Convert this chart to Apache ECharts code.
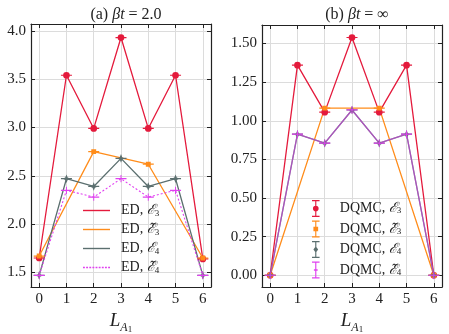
<!DOCTYPE html>
<html>
<head>
<meta charset="utf-8">
<script src="https://cdn.jsdelivr.net/npm/echarts@6/dist/echarts.min.js"></script>
<style>
  html, body { margin: 0; padding: 0; background: #fff; }
  #chart-container { width: 449px; height: 334px; }
</style>
</head>
<body>
<div id="chart-container"></div>
<script>
var dom = document.getElementById('chart-container');
var myChart = echarts.init(dom, null, { renderer: 'canvas' });

// data
const L = [0, 1, 2, 3, 4, 5, 6];
const Leven = [0, 2, 4, 6];
// (a) beta t = 2.0, ED
const edE3 = [1.65, 3.54, 2.99, 3.93, 2.99, 3.54, 1.64];
const edE3t = [1.67, 2.75, 2.62, 1.65];
const edE4 = [1.47, 2.47, 2.39, 2.68, 2.39, 2.47, 1.47];
const edE4t = [1.47, 2.35, 2.28, 2.47, 2.28, 2.35, 1.47];
// (b) beta t = inf, DQMC
const qmcE3 = [0.0, 1.36, 1.056, 1.539, 1.056, 1.36, 0.0];
const qmcE3t = [0.0, 1.082, 1.082, 0.0];
const qmcE4 = [0.0, 0.913, 0.855, 1.07, 0.855, 0.913, 0.0];
const qmcE4t = [0.0, 0.913, 0.855, 1.07, 0.855, 0.913, 0.0];

const xTicks = [0, 1, 2, 3, 4, 5, 6];
const yTicksA = [1.5, 2.0, 2.5, 3.0, 3.5, 4.0];
const yTicksB = [0.0, 0.25, 0.5, 0.75, 1.0, 1.25, 1.5];

const RED = '#e41a3c';
const ORANGE = '#ff8c1a';
const GREY = '#5b6f6f';
const MAGENTA = '#e040f0';

const FONT = 'Liberation Serif';

function pairs(xs, ys) { return xs.map((x, i) => [x, ys[i]]); }

// markers: symbol + small horizontal cap (error bar look)
const BAR = 'M1,9h18v2h-18z ';
const SYM = {
  circle: 'path://' + BAR + 'M15.5,10a5.5,5.5 0 1,1 -11,0a5.5,5.5 0 1,1 11,0z',
  square: 'path://' + BAR + 'M6,6h8v8h-8z',
  star: 'path://' + BAR + 'M10,3L12,8L17,10L12,12L10,17L8,12L3,10L8,8z',
  plus: 'path://' + BAR + 'M9.2,4h1.6v12h-1.6z'
};
// legend icons for errorbar entries
const EB = 'M1,0h8v1.4h-8z M1,16.6h8v1.4h-8z M4.4,0h1.2v18h-1.2z ';
const LEG = {
  circle: 'path://' + EB + 'M8,9a3,3 0 1,1 -6,0a3,3 0 1,1 6,0z',
  square: 'path://' + EB + 'M2.5,6.5h5v5h-5z',
  star: 'path://' + EB + 'M5,5.5L7.5,9L5,12.5L2.5,9z',
  plus: 'path://' + EB + 'M3,8.3h4v1.4h-4z'
};
let dashed = 'path://';
for (let x = 0; x < 27; x += 3) dashed += 'M' + x + ',0h1.8v1.4h-1.8z ';
const solid = 'path://M0,0h27v1.4h-27z';

const rich = {
  n: { fontFamily: FONT, fontSize: 14, color: '#222' },
  e: { fontFamily: FONT, fontSize: 14, color: '#222', fontStyle: 'italic' },
  s: { fontFamily: FONT, fontSize: 9, color: '#222', verticalAlign: 'bottom', lineHeight: 9 }
};
function legFmt(name) {
  const m = name.split(', ');
  const sym = m[1];
  return '{n|' + m[0] + ', }{e|' + sym.slice(0, -1) + '}{s|' + sym.slice(-1) + '}';
}

function lineSeries(name, xs, ys, color, sym, xi, yi, extra) {
  return Object.assign({
    name: name,
    type: 'line',
    xAxisIndex: xi,
    yAxisIndex: yi,
    data: pairs(xs, ys),
    symbol: sym,
    symbolSize: 11,
    symbolKeepAspect: true,
    showAllSymbol: true,
    itemStyle: { color: color },
    lineStyle: { color: color, width: 1.3 },
    emphasis: { disabled: true },
    animation: false
  }, extra || {});
}

function xAxisDef(gi, pos, labels) {
  return {
    type: 'value', gridIndex: gi, position: pos, min: -0.3, max: 6.3,
    axisLine: { show: true, onZero: false, lineStyle: { color: '#222', width: 1.2 } },
    axisTick: { show: true, inside: true, length: 4, customValues: xTicks, lineStyle: { color: '#222' } },
    axisLabel: { show: labels, customValues: xTicks, fontFamily: FONT, fontSize: 15, color: '#222', margin: 5 },
    splitLine: { show: labels, lineStyle: { color: '#dcdcdc', width: 1 } },
    name: labels ? '{L|L}{A|A}{o|1}' : '',
    nameLocation: 'middle',
    nameGap: 16,
    nameTextStyle: {
      rich: {
        L: { fontFamily: FONT, fontSize: 19, fontStyle: 'italic', color: '#222', lineHeight: 22, verticalAlign: 'top' },
        A: { fontFamily: FONT, fontSize: 12, fontStyle: 'italic', color: '#222', lineHeight: 10, verticalAlign: 'bottom' },
        o: { fontFamily: FONT, fontSize: 9, color: '#222', lineHeight: 4, verticalAlign: 'bottom' }
      }
    }
  };
}
function yAxisDef(gi, pos, labels, min, max, ticks, digits) {
  return {
    type: 'value', gridIndex: gi, position: pos, min: min, max: max,
    axisLine: { show: true, onZero: false, lineStyle: { color: '#222', width: 1.2 } },
    axisTick: { show: true, inside: true, length: 4, customValues: ticks, lineStyle: { color: '#222' } },
    axisLabel: {
      show: labels, customValues: ticks, fontFamily: FONT, fontSize: 15, color: '#222', margin: 5,
      formatter: v => v.toFixed(digits)
    },
    splitLine: { show: labels, lineStyle: { color: '#dcdcdc', width: 1 } }
  };
}

const titleRich = {
  n: { fontFamily: FONT, fontSize: 16, color: '#222', fontWeight: 'normal' },
  i: { fontFamily: FONT, fontSize: 16, color: '#222', fontStyle: 'italic', fontWeight: 'normal' }
};

var option = {
  backgroundColor: '#fff',
  animation: false,
  title: [
    {
      text: '{n|(a) }{i|βt}{n| = 2.0}', left: 121, top: 2, textAlign: 'center',
      textStyle: { fontWeight: 'normal', rich: titleRich }
    },
    {
      text: '{n|(b) }{i|βt}{n| = ∞}', left: 352, top: 2, textAlign: 'center',
      textStyle: { fontWeight: 'normal', rich: titleRich }
    }
  ],
  grid: [
    { left: 31, top: 24, width: 180, height: 263, containLabel: false, outerBoundsMode: 'none' },
    { left: 262, top: 25, width: 180, height: 262, containLabel: false, outerBoundsMode: 'none' }
  ],
  xAxis: [
    xAxisDef(0, 'bottom', true),
    xAxisDef(0, 'top', false),
    xAxisDef(1, 'bottom', true),
    xAxisDef(1, 'top', false)
  ],
  yAxis: [
    yAxisDef(0, 'left', true, 1.35, 4.07, yTicksA, 1),
    yAxisDef(0, 'right', false, 1.35, 4.07, yTicksA, 1),
    yAxisDef(1, 'left', true, -0.076, 1.62, yTicksB, 2),
    yAxisDef(1, 'right', false, -0.076, 1.62, yTicksB, 2)
  ],
  legend: [
    {
      left: 83, top: 203, orient: 'vertical', padding: 0,
      itemWidth: 27, itemHeight: 2, itemGap: 4,
      data: [
        { name: 'ED, ℰ3', icon: solid },
        { name: 'ED, ℰ̃3', icon: solid },
        { name: 'ED, ℰ4', icon: solid },
        { name: 'ED, ℰ̃4', icon: dashed }
      ],
      formatter: legFmt,
      textStyle: { rich: rich, padding: [0, 0, 0, 6], lineHeight: 15 },
      selectedMode: false
    },
    {
      left: 312, top: 200, orient: 'vertical', padding: 0,
      itemWidth: 10, itemHeight: 17, itemGap: 3.5,
      data: [
        { name: 'DQMC, ℰ3', icon: LEG.circle },
        { name: 'DQMC, ℰ̃3', icon: LEG.square },
        { name: 'DQMC, ℰ4', icon: LEG.star },
        { name: 'DQMC, ℰ̃4', icon: LEG.plus }
      ],
      formatter: legFmt,
      textStyle: { rich: rich, padding: [0, 0, 0, 14] },
      selectedMode: false
    }
  ],
  series: [
    lineSeries('ED, ℰ3', L, edE3, RED, SYM.circle, 0, 0),
    lineSeries('ED, ℰ̃3', Leven, edE3t, ORANGE, SYM.square, 0, 0),
    lineSeries('ED, ℰ4', L, edE4, GREY, SYM.star, 0, 0),
    lineSeries('ED, ℰ̃4', L, edE4t, MAGENTA, SYM.plus, 0, 0, {
      lineStyle: { color: MAGENTA, width: 1.1, type: [2, 2] }
    }),
    lineSeries('DQMC, ℰ3', L, qmcE3, RED, SYM.circle, 2, 2),
    lineSeries('DQMC, ℰ̃3', Leven, qmcE3t, ORANGE, SYM.square, 2, 2),
    lineSeries('DQMC, ℰ4', L, qmcE4, GREY, SYM.star, 2, 2),
    lineSeries('DQMC, ℰ̃4', L, qmcE4t, MAGENTA, SYM.plus, 2, 2, {
      lineStyle: { color: MAGENTA, width: 1.3, opacity: 0.6 }
    })
  ]
};

myChart.setOption(option);
window.addEventListener('resize', myChart.resize);
</script>
</body>
</html>
